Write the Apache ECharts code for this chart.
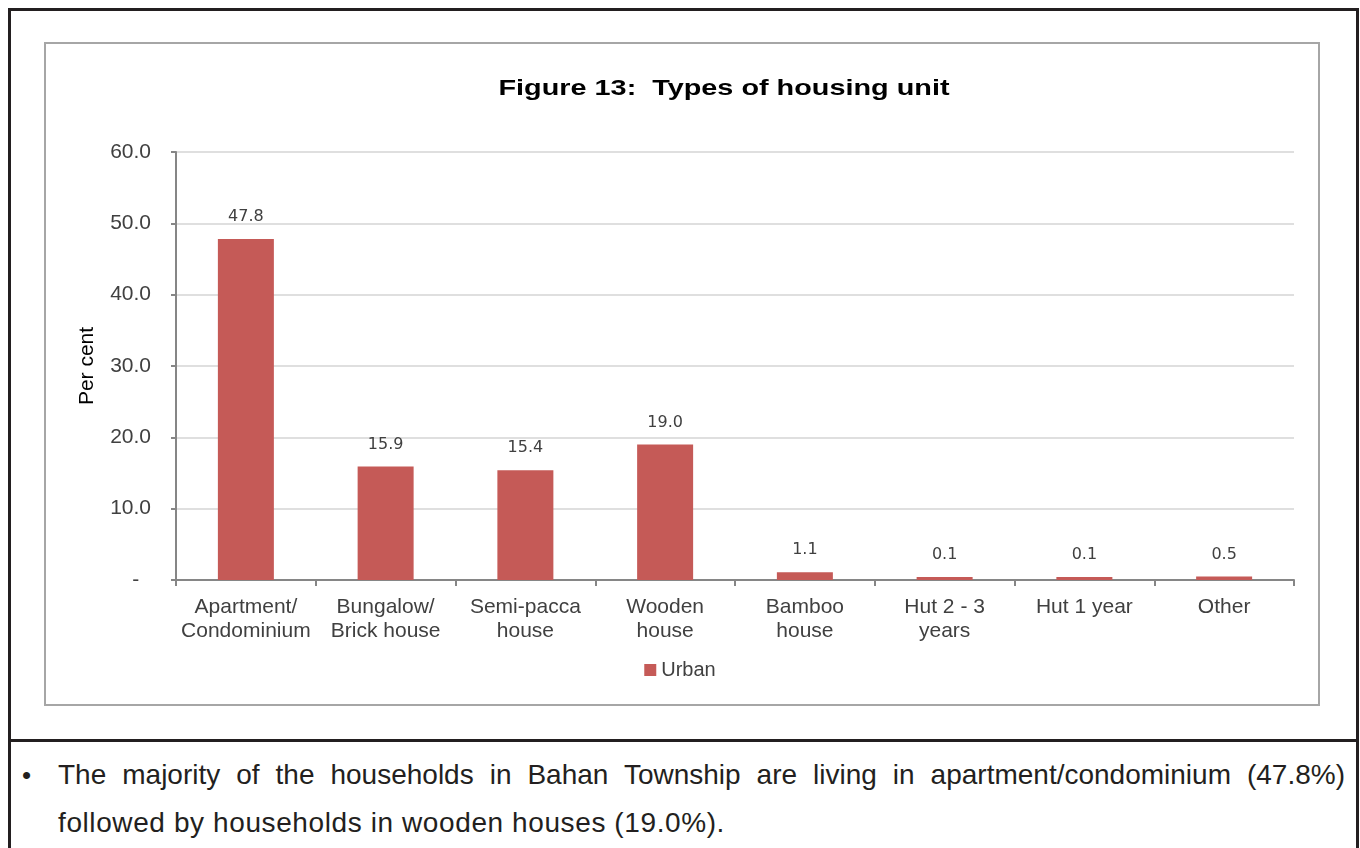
<!DOCTYPE html>
<html>
<head>
<meta charset="utf-8">
<script src="https://cdn.jsdelivr.net/npm/echarts@6/dist/echarts.min.js"></script>
<style>
    html, body { margin: 0; padding: 0; background: #fff; }
    body { width: 1360px; height: 848px; position: relative; overflow: hidden; font-family: "Liberation Sans", Arial, sans-serif; }
    .outer { position: absolute; left: 8px; top: 8px; width: 1345px; height: 728px; border: 3px solid #231f20; }
    .lower { position: absolute; left: 8px; top: 739px; width: 1345px; height: 120px; border-left: 3px solid #231f20; border-right: 3px solid #231f20; }
    .frame { position: absolute; left: 44px; top: 42px; width: 1272px; height: 660px; border: 2px solid #a6a6a6; }
    .line1 { position: absolute; left: 58px; top: 751px; width: 1287px; height: 48px; font-size: 28px; line-height: 48px; color: #231f20; text-align: justify; text-align-last: justify; }
    .line2 { position: absolute; left: 58px; top: 799px; font-size: 28px; line-height: 48px; color: #231f20; white-space: nowrap; letter-spacing: 0.6px; }
    .bullet { position: absolute; left: 22px; top: 751px; font-size: 26px; line-height: 48px; color: #231f20; }
    #main { position: absolute; left: 0; top: 0; width: 1360px; height: 848px; }
</style>
</head>
<body>
<div class="outer"></div>
<div class="lower"></div>
<div class="frame"></div>
<div class="bullet">&bull;</div>
<div class="line1">The majority of the households in Bahan Township are living in apartment/condominium (47.8%)</div>
<div class="line2">followed by households in wooden houses (19.0%).</div>
<div id="main"></div>
<script>
    // 数据
    var categories = ['Apartment/\nCondominium', 'Bungalow/\nBrick house', 'Semi-pacca\nhouse', 'Wooden\nhouse', 'Bamboo\nhouse', 'Hut 2 - 3\nyears', 'Hut 1 year', 'Other'];
    var urbanValues = [47.8, 15.9, 15.4, 19.0, 1.1, 0.1, 0.1, 0.5];
    var yTicks = [0, 10, 20, 30, 40, 50, 60];

    var textColor = '#404040';
    var fontArial = '"Liberation Sans", Arial, sans-serif';
    var myChart = echarts.init(document.getElementById('main'), null, {renderer: 'canvas'});
    var option = {
        animation: false,
        textStyle: { fontFamily: fontArial },
        graphic: [{
            type: 'text',
            x: 724,
            y: 89,
            scaleX: 1.31,
            style: {
                text: 'Figure 13:  Types of housing unit',
                fill: '#000',
                font: 'bold 22px ' + fontArial,
                textAlign: 'center',
                textVerticalAlign: 'middle'
            }
        }],
        legend: {
            data: ['Urban'],
            left: 'center',
            top: 655,
            itemWidth: 12,
            itemHeight: 12,
            itemGap: 4,
            icon: 'rect',
            selectedMode: false,
            textStyle: { color: textColor, fontSize: 20 }
        },
        grid: { left: 176, top: 152, right: 66, bottom: 268, containLabel: false },
        xAxis: {
            type: 'category',
            data: categories,
            axisLine: { lineStyle: { color: '#868686', width: 2 } },
            axisTick: { show: true, alignWithLabel: false, length: 6, lineStyle: { color: '#868686', width: 2 } },
            axisLabel: { color: textColor, fontSize: 21, lineHeight: 24, margin: 15, interval: 0 }
        },
        yAxis: {
            type: 'value',
            min: yTicks[0],
            max: yTicks[yTicks.length - 1],
            interval: 10,
            name: 'Per cent',
            nameLocation: 'middle',
            nameRotate: 90,
            nameGap: 78,
            nameTextStyle: { color: '#000', fontSize: 21 },
            axisLine: { show: true, lineStyle: { color: '#868686', width: 2 } },
            axisTick: { show: true, length: 5, lineStyle: { color: '#868686', width: 2 } },
            axisLabel: {
                color: textColor,
                fontSize: 21,
                margin: 25,
                formatter: function (v) {
                    return v === 0 ? '-  ' : v.toFixed(1);
                }
            },
            splitLine: { lineStyle: { color: '#d4d4d4', width: 1.5 } }
        },
        series: [{
            name: 'Urban',
            type: 'bar',
            data: urbanValues,
            barWidth: 56,
            barMinHeight: 3,
            itemStyle: { color: '#c55a57' },
            label: {
                show: true,
                position: 'top',
                distance: 14,
                color: textColor,
                fontSize: 16,
                fontFamily: '"DejaVu Sans", sans-serif',
                formatter: function (p) { return p.value.toFixed(1); }
            }
        }]
    };
    myChart.setOption(option);
</script>
</body>
</html>
